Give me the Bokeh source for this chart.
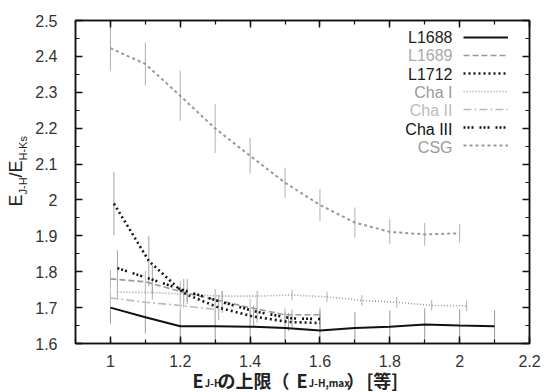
import numpy as np
from bokeh.plotting import figure
from bokeh.layouts import row, column
from bokeh.models import (ColumnDataSource, Range1d, LinearAxis, FixedTicker,
                          NumeralTickFormatter, Label, Legend, LegendItem)
from bokeh.embed import file_html
from bokeh.resources import INLINE

# ---------------- data ----------------
x_ticks = [1.0, 1.2, 1.4, 1.6, 1.8, 2.0, 2.2]
y_ticks = [1.6, 1.7, 1.8, 1.9, 2.0, 2.1, 2.2, 2.3, 2.4, 2.5]

series_names = ["L1688", "L1689", "L1712", "Cha I", "Cha II", "Cha III", "CSG"]

x_l1688 = [1.0, 1.1, 1.2, 1.3, 1.4, 1.5, 1.6, 1.7, 1.8, 1.9, 2.0, 2.1]
y_l1688 = [1.700, 1.673, 1.648, 1.648, 1.647, 1.643, 1.636, 1.643, 1.647, 1.653, 1.650, 1.648]
e_l1688 = [0.045, 0.045, 0.045, 0.045, 0.045, 0.045, 0.045, 0.045, 0.045, 0.045, 0.045, 0.045]

x_l1689 = [1.0, 1.1, 1.2, 1.3, 1.4, 1.5, 1.6]
y_l1689 = [1.780, 1.772, 1.745, 1.722, 1.700, 1.680, 1.680]
e_l1689 = [0.025, 0.030, 0.030, 0.030, 0.025, 0.020, 0.020]

x_l1712 = [1.01, 1.11, 1.21, 1.31, 1.41, 1.51, 1.60]
y_l1712 = [1.990, 1.830, 1.740, 1.700, 1.675, 1.660, 1.657]
e_l1712 = [0.088, 0.070, 0.040, 0.035, 0.030, 0.025, 0.025]

x_chai = [1.02, 1.12, 1.22, 1.32, 1.42, 1.52, 1.62, 1.72, 1.82, 1.92, 2.02]
y_chai = [1.743, 1.742, 1.737, 1.732, 1.732, 1.735, 1.730, 1.720, 1.715, 1.706, 1.705]
e_chai = [0.020, 0.020, 0.020, 0.015, 0.015, 0.015, 0.015, 0.015, 0.015, 0.015, 0.015]

x_chaii = [1.0, 1.1, 1.2, 1.3]
y_chaii = [1.727, 1.715, 1.706, 1.695]
e_chaii = [0.030, 0.030, 0.030, 0.030]

x_chaiii = [1.02, 1.12, 1.22, 1.32, 1.42, 1.52, 1.60]
y_chaiii = [1.810, 1.778, 1.745, 1.715, 1.688, 1.670, 1.668]
e_chaiii = [0.050, 0.040, 0.035, 0.030, 0.030, 0.025, 0.025]

x_csg = [1.0, 1.1, 1.2, 1.3, 1.4, 1.5, 1.6, 1.7, 1.8, 1.9, 2.0]
y_csg = [2.423, 2.379, 2.290, 2.199, 2.123, 2.048, 1.986, 1.937, 1.911, 1.904, 1.907]
e_csg = [0.063, 0.060, 0.070, 0.068, 0.050, 0.042, 0.045, 0.042, 0.035, 0.032, 0.026]

# ---------------- styles ----------------
styles = {
    "L1688":   dict(color="#111111", dash="solid",        width=2.0, text="#222222", err="#9a9a9a"),
    "L1689":   dict(color="#9a9a9a", dash="6 3",          width=1.6, text="#aaaaaa", err="#b5b5b5"),
    "L1712":   dict(color="#1a1a1a", dash="2 3",          width=2.6, text="#1a1a1a", err="#a5a5a5"),
    "Cha I":   dict(color="#9a9a9a", dash="1 2",          width=1.6, text="#999999", err="#b0b0b0"),
    "Cha II":  dict(color="#bbbbbb", dash="8 3 2 3",      width=1.6, text="#bbbbbb", err="#c5c5c5"),
    "Cha III": dict(color="#111111", dash="2 2 2 2 2 6",  width=2.6, text="#111111", err="#a5a5a5"),
    "CSG":     dict(color="#999999", dash="3 3",          width=2.0, text="#999999", err="#b0b0b0"),
}

data = {
    "L1688": (x_l1688, y_l1688, e_l1688),
    "L1689": (x_l1689, y_l1689, e_l1689),
    "L1712": (x_l1712, y_l1712, e_l1712),
    "Cha I": (x_chai, y_chai, e_chai),
    "Cha II": (x_chaii, y_chaii, e_chaii),
    "Cha III": (x_chaiii, y_chaiii, e_chaiii),
    "CSG": (x_csg, y_csg, e_csg),
}

# ---------------- layout geometry (window px) ----------------
YLW = 32      # width of the y-label strip
XLH = 20      # height of the x-label strip
FB = 343      # frame bottom
FL = 74       # frame left
W, H = 544, 392

p = figure(width=W - YLW, height=H - XLH, output_backend="svg", toolbar_location=None,
           x_range=Range1d(0.9, 2.2), y_range=Range1d(1.6, 2.5),
           min_border_left=FL - YLW, min_border_right=15, min_border_top=20,
           min_border_bottom=H - XLH - FB, frame_align=False)
p.xgrid.visible = False
p.ygrid.visible = False
p.outline_line_color = "#111111"
p.outline_line_width = 1.5
p.background_fill_color = "white"
p.border_fill_color = "white"

x_minor = [round(v, 2) for v in np.arange(0.9, 2.2001, 0.1)]
y_minor = [round(v, 3) for v in np.arange(1.6, 2.5001, 0.05)]


def style_axis(ax, labels=True):
    ax.axis_line_color = "#111111"
    ax.axis_line_width = 1.5
    ax.major_tick_in = 7
    ax.major_tick_out = 0
    ax.minor_tick_in = 4
    ax.minor_tick_out = 0
    ax.major_tick_line_width = 1.5
    ax.minor_tick_line_width = 1.2
    ax.major_tick_line_color = "#111111"
    ax.minor_tick_line_color = "#111111"
    ax.formatter = NumeralTickFormatter(format="0.[0]")
    if labels:
        ax.major_label_text_font = "Liberation Sans"
        ax.major_label_text_font_size = "16px"
        ax.major_label_text_color = "#333333"
    else:
        ax.major_label_text_alpha = 0
        ax.major_label_text_font_size = "1px"
        ax.major_label_standoff = 0


p.xaxis.ticker = FixedTicker(ticks=x_ticks, minor_ticks=x_minor)
p.yaxis.ticker = FixedTicker(ticks=y_ticks, minor_ticks=y_minor)
style_axis(p.xaxis[0])
style_axis(p.yaxis[0])
p.xaxis.major_label_standoff = 11
p.yaxis.major_label_standoff = 18

top = LinearAxis(ticker=FixedTicker(ticks=x_ticks, minor_ticks=x_minor))
style_axis(top, labels=False)
p.add_layout(top, "above")
right = LinearAxis(ticker=FixedTicker(ticks=y_ticks, minor_ticks=y_minor))
style_axis(right, labels=False)
p.add_layout(right, "right")

# error bars first
for name in series_names:
    xs, ys, es = data[name]
    st = styles[name]
    src = ColumnDataSource(dict(x=xs, lo=[y - e for y, e in zip(ys, es)],
                                hi=[y + e for y, e in zip(ys, es)]))
    p.segment(x0="x", y0="lo", x1="x", y1="hi", source=src,
              line_color=st["err"], line_width=1)

renderers = {}
for name in series_names:
    xs, ys, es = data[name]
    st = styles[name]
    src = ColumnDataSource(dict(x=xs, y=ys))
    renderers[name] = p.line("x", "y", source=src, line_color=st["color"],
                             line_width=st["width"], line_dash=st["dash"])

# legend: line samples (names drawn separately to the left, right-aligned)
items = [LegendItem(label=" ", renderers=[renderers[n]]) for n in series_names]
leg = Legend(items=items, location=(462 - FL, FB - 28 - 7 * 18), orientation="vertical",
             glyph_width=45, glyph_height=18, label_height=18, label_width=0,
             label_standoff=0, spacing=0, padding=0, margin=0,
             label_text_font_size="1px", label_text_alpha=0, border_line_alpha=0,
             background_fill_alpha=0)
p.add_layout(leg, "center")

for i, name in enumerate(series_names):
    p.add_layout(Label(x=451 - FL, y=FB - (37 + 18.3 * i), x_units="screen",
                       y_units="screen", text=name, text_align="right",
                       text_baseline="middle", text_font="Liberation Sans",
                       text_font_size="16px", text_color=styles[name]["text"]))


def strip(width, height):
    f = figure(width=width, height=height, output_backend="svg", toolbar_location=None,
               x_axis_type=None, y_axis_type=None, x_range=Range1d(0, 1),
               y_range=Range1d(0, 1), min_border_left=0, min_border_right=0,
               min_border_top=0, min_border_bottom=0, frame_align=False)
    f.outline_line_color = None
    f.xgrid.visible = False
    f.ygrid.visible = False
    f.background_fill_color = "white"
    f.border_fill_color = "white"
    return f


# y axis label strip: E_{J-H}/E_{H-Ks}  (text reads bottom to top)
yl = strip(YLW, H)


def ylab(text, wy, wx, size):
    yl.add_layout(Label(x=wx, y=H - wy, x_units="screen", y_units="screen",
                        text=text, angle=90, angle_units="deg", text_align="left",
                        text_baseline="middle", text_font="Liberation Sans",
                        text_font_size=size, text_color="#222222"))


ylab("E", 206, 15, "18px")
ylab("J-H", 194, 22, "11px")
ylab("/E", 177, 15, "18px")
ylab("H-Ks", 160, 22, "11px")

# x axis label strip: E_{J-H}の上限（E_{J-H,max}）[等]
xl = strip(W - YLW, XLH)


def xlab(text, wx, sub=False, size="18px"):
    xl.add_layout(Label(x=wx - YLW, y=H - (382 if sub else 379), x_units="screen",
                        y_units="screen", text=text, text_align="left",
                        text_baseline="alphabetic", text_font="Noto Sans CJK JP",
                        text_font_style="bold", text_font_size=size,
                        text_color="#222222"))


xlab("E", 192)
xlab("J-H", 204, sub=True, size="10px")
xlab("の上限（", 217)
xlab("E", 296)
xlab("J-H,max", 308, sub=True, size="10px")
xlab("）", 346)
xlab("[等]", 366)

layout = row(yl, column(p, xl, spacing=0), spacing=0)
open("out.html", "w").write(file_html(layout, INLINE))
